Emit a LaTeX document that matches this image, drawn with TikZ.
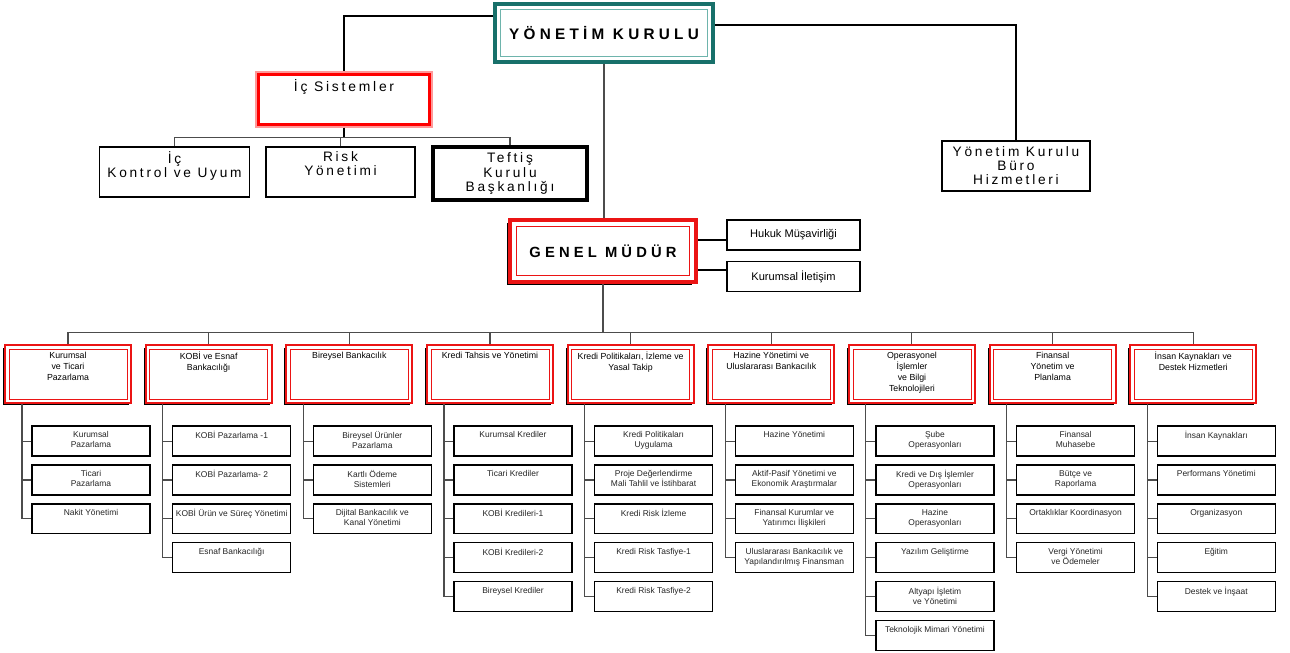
\documentclass[tikz,border=0pt]{standalone}
\usepackage{fontspec}
\setmainfont{Liberation Sans}
\newfontfamily\widefont[LetterSpace=20]{Liberation Sans}
\newfontfamily\widerfont[LetterSpace=28]{Liberation Sans}
\usetikzlibrary{positioning,shadows}
\definecolor{ykteal}{RGB}{24,112,106}
\definecolor{ykteallight}{RGB}{110,180,172}
\definecolor{gmred}{RGB}{235,20,20}
\tikzset{
	toptext/.style n args={2}{execute at begin node={\begin{minipage}[t][#2][t]{#1}\centering},
		execute at end node={\end{minipage}}},
	inset/.style n args={3}{path picture={\draw[#1,line width=#2]
			([shift={(#3,-#3)}]path picture bounding box.north west) rectangle
			([shift={(-#3,#3)}]path picture bounding box.south east);}},
	ykbox/.style={draw=ykteal,line width=1.8pt,fill=white,minimum width=4.36cm,minimum height=1.16cm,
		inset={ykteallight}{0.6pt}{0.11cm},
		drop shadow={shadow xshift=-0.05cm,shadow yshift=-0.05cm,fill=black,opacity=1},
		font={\widerfont\bfseries\fontsize{8.7}{10}\selectfont}},
	gmbox/.style={draw=gmred,line width=2.2pt,fill=white,minimum width=3.72cm,minimum height=1.24cm,
		inset={gmred}{0.5pt}{0.13cm},
		drop shadow={shadow xshift=-0.07cm,shadow yshift=-0.06cm,fill=black,opacity=1},
		font={\widerfont\bfseries\fontsize{8.4}{10}\selectfont}},
	icbox/.style={draw=red!40,line width=0.6pt,fill=white,inner sep=0.15cm,
		inset={red}{1.2pt}{0.05cm},toptext={3.22cm}{0.8cm},
		font={\widefont\fontsize{7.9}{9}\selectfont}},
	unitbox/.style={draw=black,line width=1pt,fill=white,
		font={\widefont\fontsize{7.8}{8}\selectfont}},
	staffbox/.style={draw=black,line width=0.8pt,fill=white,minimum width=2.66cm,minimum height=0.6cm,
		font={\fontsize{6.3}{7}\selectfont}},
	headbox/.style={draw=gmred,line width=1.1pt,fill=white,inner xsep=0.1cm,inner ysep=0.14cm,
		inset={gmred}{0.5pt}{0.08cm},toptext={2.32cm}{0.88cm},
		drop shadow={shadow xshift=-0.04cm,shadow yshift=-0.05cm,fill=black,opacity=1},
		font={\fontsize{5}{6.2}\selectfont}},
	subbox/.style={draw=black,line width=0.75pt,fill=white,inner xsep=0.03cm,inner ysep=0.11cm,
		toptext={2.3cm}{0.38cm},text=black!85,
		font={\fontsize{4.8}{5.8}\selectfont}},
	link/.style={draw=black!70,line width=0.6pt},
	toplink/.style={draw=black,line width=0.9pt}
}

\begin{document}
\begin{tikzpicture}[x=0.02cm,y=-0.02cm]
\useasboundingbox (0,0) rectangle (1290,652);

% board and its units
\node[ykbox] (yk) at (604,33) {YÖNETİM KURULU};
\node[icbox] (ic) at (344,99.5) {İç Sistemler};
\node[unitbox,inner sep=0.1cm,toptext={2.8cm}{0.8cm}] (ick) at (174.5,172) {İç\\Kontrol ve Uyum};
\node[unitbox,inner sep=0.1cm,toptext={2.78cm}{0.8cm}] (risk) at (340.5,172) {Risk\\Yönetimi};
\node[unitbox,align=center,line width=2.2pt,minimum width=3.08cm,minimum height=1.06cm] (teftis) at (510,173.5) {Teftiş\\Kurulu\\Başkanlığı};
\node[unitbox,align=center,minimum width=2.96cm,minimum height=0.96cm] (buro) at (1016,166) {Yönetim Kurulu\\Büro\\Hizmetleri};

% general manager
\node[gmbox] (gm) at (603,251) {GENEL MÜDÜR};
\node[staffbox] (hukuk) at (793.5,235) {Hukuk Müşavirliği};
\node[staffbox] (ilet) at (793.5,276.5) {Kurumsal İletişim};

% departments
\node[headbox] (h1) at (68,374) {Kurumsal\\ve Ticari\\Pazarlama};
\node[headbox,right=0.255cm of h1] (h2) {KOBİ ve Esnaf\\Bankacılığı};
\node[headbox,right=0.255cm of h2] (h3) {Bireysel Bankacılık};
\node[headbox,right=0.255cm of h3] (h4) {Kredi Tahsis ve Yönetimi};
\node[headbox,right=0.255cm of h4] (h5) {Kredi Politikaları, İzleme ve\\Yasal Takip};
\node[headbox,right=0.255cm of h5] (h6) {Hazine Yönetimi ve\\Uluslararası Bankacılık};
\node[headbox,right=0.255cm of h6] (h7) {Operasyonel\\İşlemler\\ve Bilgi\\Teknolojileri};
\node[headbox,right=0.255cm of h7] (h8) {Finansal\\Yönetim ve\\Planlama};
\node[headbox,right=0.255cm of h8] (h9) {İnsan Kaynakları ve\\Destek Hizmetleri};

\node[subbox,below=0.43cm of h1,xshift=0.46cm] (s11) {Kurumsal\\Pazarlama};
\node[subbox,below=0.151cm of s11] (s12) {Ticari\\Pazarlama};
\node[subbox,below=0.151cm of s12] (s13) {Nakit Yönetimi};

\node[subbox,below=0.43cm of h2,xshift=0.46cm] (s21) {KOBİ Pazarlama -1};
\node[subbox,below=0.151cm of s21] (s22) {KOBİ Pazarlama- 2};
\node[subbox,below=0.151cm of s22] (s23) {KOBİ Ürün ve Süreç Yönetimi};
\node[subbox,below=0.151cm of s23] (s24) {Esnaf Bankacılığı};

\node[subbox,below=0.43cm of h3,xshift=0.46cm] (s31) {Bireysel Ürünler\\Pazarlama};
\node[subbox,below=0.151cm of s31] (s32) {Kartlı Ödeme\\Sistemleri};
\node[subbox,below=0.151cm of s32] (s33) {Dijital Bankacılık ve\\Kanal Yönetimi};

\node[subbox,below=0.43cm of h4,xshift=0.46cm] (s41) {Kurumsal Krediler};
\node[subbox,below=0.151cm of s41] (s42) {Ticari Krediler};
\node[subbox,below=0.151cm of s42] (s43) {KOBİ Kredileri-1};
\node[subbox,below=0.151cm of s43] (s44) {KOBİ Kredileri-2};
\node[subbox,below=0.151cm of s44] (s45) {Bireysel Krediler};

\node[subbox,below=0.43cm of h5,xshift=0.46cm] (s51) {Kredi Politikaları\\Uygulama};
\node[subbox,below=0.151cm of s51] (s52) {Proje Değerlendirme\\Mali Tahlil ve İstihbarat};
\node[subbox,below=0.151cm of s52] (s53) {Kredi Risk İzleme};
\node[subbox,below=0.151cm of s53] (s54) {Kredi Risk Tasfiye-1};
\node[subbox,below=0.151cm of s54] (s55) {Kredi Risk Tasfiye-2};

\node[subbox,below=0.43cm of h6,xshift=0.46cm] (s61) {Hazine Yönetimi};
\node[subbox,below=0.151cm of s61] (s62) {Aktif-Pasif Yönetimi ve\\Ekonomik Araştırmalar};
\node[subbox,below=0.151cm of s62] (s63) {Finansal Kurumlar ve\\Yatırımcı İlişkileri};
\node[subbox,below=0.151cm of s63] (s64) {Uluslararası Bankacılık ve\\Yapılandırılmış Finansman};

\node[subbox,below=0.43cm of h7,xshift=0.46cm] (s71) {Şube\\Operasyonları};
\node[subbox,below=0.151cm of s71] (s72) {Kredi ve Dış İşlemler\\Operasyonları};
\node[subbox,below=0.151cm of s72] (s73) {Hazine\\Operasyonları};
\node[subbox,below=0.151cm of s73] (s74) {Yazılım Geliştirme};
\node[subbox,below=0.151cm of s74] (s75) {Altyapı İşletim\\ve Yönetimi};
\node[subbox,below=0.151cm of s75] (s76) {Teknolojik Mimari Yönetimi};

\node[subbox,below=0.43cm of h8,xshift=0.46cm] (s81) {Finansal\\Muhasebe};
\node[subbox,below=0.151cm of s81] (s82) {Bütçe ve\\Raporlama};
\node[subbox,below=0.151cm of s82] (s83) {Ortaklıklar Koordinasyon};
\node[subbox,below=0.151cm of s83] (s84) {Vergi Yönetimi\\ve Ödemeler};

\node[subbox,below=0.43cm of h9,xshift=0.46cm] (s91) {İnsan Kaynakları};
\node[subbox,below=0.151cm of s91] (s92) {Performans Yönetimi};
\node[subbox,below=0.151cm of s92] (s93) {Organizasyon};
\node[subbox,below=0.151cm of s93] (s94) {Eğitim};
\node[subbox,below=0.151cm of s94] (s95) {Destek ve İnşaat};

% top connectors
\draw[toplink] ([yshift=0.34cm]yk.west) -| (ic.north);
\draw[toplink] ([yshift=0.16cm]yk.east) -| (buro.north);
\draw[link] (yk.south) -- (yk.south |- gm.north);
\coordinate (icbus) at ([yshift=-0.2cm]ic.south);
\draw[toplink] (ic.south) -- (icbus);
\draw[link] (ick.north) |- (icbus) -| (teftis.north);
\draw[link] (risk.north) -- (risk.north |- icbus);
\coordinate (hk) at ([yshift=-0.1cm]hukuk.west);
\coordinate (ik) at ([yshift=0.13cm]ilet.west);
\draw[toplink] (hk) -- (hk -| gm.east);
\draw[toplink] (ik) -- (ik -| gm.east);

% department bus
\coordinate (bus) at ([yshift=0.24cm]h1.north);
\draw[link] (gm.south) -- (gm.south |- bus);
\draw[link] (h1.north) |- (bus) -| (h9.north);
\draw[link] (h2.north) -- (h2.north |- bus) (h3.north) -- (h3.north |- bus)
	(h4.north) -- (h4.north |- bus) (h5.north) -- (h5.north |- bus)
	(h6.north) -- (h6.north |- bus) (h7.north) -- (h7.north |- bus)
	(h8.north) -- (h8.north |- bus);

% sub units
\draw[link] ([xshift=-0.92cm]h1.south) |- (s13.west);
\draw[link] (s11.west) -- +(-0.2cm,0) (s12.west) -- +(-0.2cm,0);
\draw[link] ([xshift=-0.92cm]h2.south) |- (s24.west);
\draw[link] (s21.west) -- +(-0.2cm,0) (s22.west) -- +(-0.2cm,0) (s23.west) -- +(-0.2cm,0);
\draw[link] ([xshift=-0.92cm]h3.south) |- (s33.west);
\draw[link] (s31.west) -- +(-0.2cm,0) (s32.west) -- +(-0.2cm,0);
\draw[link] ([xshift=-0.92cm]h4.south) |- (s45.west);
\draw[link] (s41.west) -- +(-0.2cm,0) (s42.west) -- +(-0.2cm,0) (s43.west) -- +(-0.2cm,0)
	(s44.west) -- +(-0.2cm,0);
\draw[link] ([xshift=-0.92cm]h5.south) |- (s55.west);
\draw[link] (s51.west) -- +(-0.2cm,0) (s52.west) -- +(-0.2cm,0) (s53.west) -- +(-0.2cm,0)
	(s54.west) -- +(-0.2cm,0);
\draw[link] ([xshift=-0.92cm]h6.south) |- (s64.west);
\draw[link] (s61.west) -- +(-0.2cm,0) (s62.west) -- +(-0.2cm,0) (s63.west) -- +(-0.2cm,0);
\draw[link] ([xshift=-0.92cm]h7.south) |- (s76.west);
\draw[link] (s71.west) -- +(-0.2cm,0) (s72.west) -- +(-0.2cm,0) (s73.west) -- +(-0.2cm,0)
	(s74.west) -- +(-0.2cm,0) (s75.west) -- +(-0.2cm,0);
\draw[link] ([xshift=-0.92cm]h8.south) |- (s84.west);
\draw[link] (s81.west) -- +(-0.2cm,0) (s82.west) -- +(-0.2cm,0) (s83.west) -- +(-0.2cm,0);
\draw[link] ([xshift=-0.92cm]h9.south) |- (s95.west);
\draw[link] (s91.west) -- +(-0.2cm,0) (s92.west) -- +(-0.2cm,0) (s93.west) -- +(-0.2cm,0)
	(s94.west) -- +(-0.2cm,0);
\end{tikzpicture}
\end{document}
